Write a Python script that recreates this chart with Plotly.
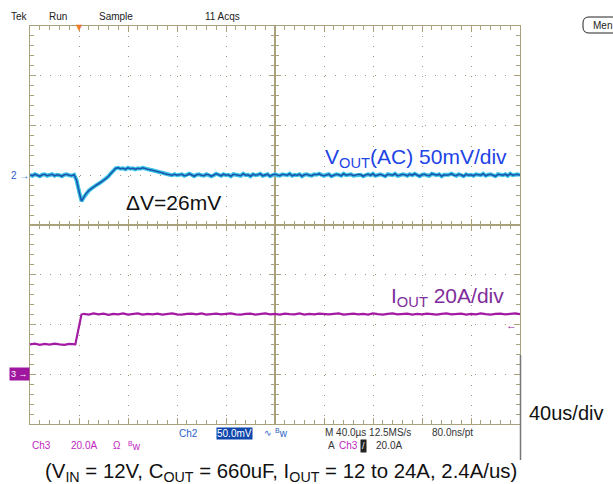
import plotly.graph_objects as go

# ---------------- data ----------------
# Ch2: VOUT (AC coupled), mV, sampled every 2 us over the 400 us record
time_v_us = list(range(0, 401, 2))
vout_mv = (
    [0.5, -0.5, 1.0, 0.0, -1.0, 0.5, 1.0, -0.5, 0.0, 1.0, -0.5, 0.5, 0.0, -1.0, 0.5, 1.0, 0.0, -0.5, 0.5]
    + [-5, -16, -26, -22, -18, -15.5, -13.5, -11.5, -10, -8.5, -7, -5, -3.5, -1, 2, 5, 7]
    + [7.5, 6.5, 7.0, 6.0, 7.5, 6.5, 7.0, 6.0, 7.0, 6.5, 7.5, 6.5, 6.0, 5.5]
    + [5.0, 4.0, 3.5, 3.0, 2.5, 1.5, 1.0, 0.5, 0.0, 1.0, 0.0]
    + [0.5, 1.0, -0.5, 0.0, 1.5, 0.5, -1.0, 0.5, 1.0, 0.0]
    + [-0.5, 1.0, 0.5, -1.0, 0.0, 1.5, 0.5, -0.5, 1.0, 0.0]
    + [0.5, -1.0, 1.0, 0.5, 0.0, -0.5, 1.5, 0.0, 0.5, -1.0]
    + [1.0, 0.0, 0.5, 1.5, -0.5, 0.0, 1.0, -1.0, 0.5, 1.0]
    + [0.0, -0.5, 1.0, 0.5, 0.0, 1.5, -0.5, 0.5, 0.0, 1.0]
    + [-1.0, 0.5, 1.0, 0.0, -0.5, 1.0, 0.5, 1.5, 0.0, -0.5]
    + [0.5, 1.0, -1.0, 0.0, 1.0, 0.5, -0.5, 1.5, 0.0, 0.5]
    + [1.0, -0.5, 0.0, 1.0, 0.5, -1.0, 0.5, 1.0, 0.0, 1.5]
    + [-0.5, 0.5, 1.0, 0.0, -1.0, 1.0, 0.5, 0.0, 1.5, -0.5]
    + [0.0, 1.0, 0.5, -0.5, 1.0, 0.0, 1.5, 0.5, -1.0, 0.5]
    + [1.0, 0.0, -0.5, 1.5, 0.5, 0.0, 1.0, -1.0, 0.5, 0.0]
    + [0.5, 1.5, 0.0, -0.5, 1.0, 0.5, -1.0, 1.0, 0.0, 0.5]
    + [-0.5, 1.0, 0.5, 0.0, 1.5, -0.5, 0.5, 1.0, 0.0, -1.0]
    + [1.0, 0.5, 0.0, 1.0, -0.5, 1.5, 0.0, 0.5, 1.0, 0.0]
)

# Ch3: IOUT, A
time_i_us = list(range(0, 37, 4)) + [37, 42] + list(range(44, 401, 4))
iout_a = (
    [12.0, 12.3, 11.8, 12.2, 11.9, 12.3, 12.0, 11.8, 12.2, 12.0, 12.0]
    + [24.0]
    + [24.3, 24.0, 24.5, 24.1, 24.4, 23.9, 24.3, 24.1, 24.5, 24.0]
    + [24.2, 24.5, 24.0, 24.3, 24.1, 24.4, 24.0, 24.3, 24.5, 24.1]
    + [24.0, 24.3, 24.4, 24.1, 24.5, 24.0, 24.2, 24.4, 24.1, 24.3]
    + [24.5, 24.1, 24.0, 24.3, 24.4, 24.0, 24.2, 24.5, 24.1, 24.3]
    + [24.0, 24.4, 24.2, 24.1, 24.5, 24.0, 24.3, 24.1, 24.4, 24.2]
    + [24.1, 24.3, 24.5, 24.0, 24.2, 24.4, 24.1, 24.3, 24.0, 24.5]
    + [24.2, 24.0, 24.3, 24.5, 24.1, 24.2, 24.4, 24.0, 24.3, 24.1]
    + [24.4, 24.2, 24.0, 24.3, 24.5, 24.1, 24.2, 24.4, 24.0, 24.3]
    + [24.1, 24.5, 24.2, 24.0, 24.3, 24.4, 24.1, 24.2, 24.5, 24.2]
)

time_range_us = [0, 400]       # 10 div x 40 us/div
time_div_us = 40
div_half = 4                   # 8 vertical divisions, centre at 0
ch2_range_mv = [-250, 150]     # 50 mV/div, ground one div above centre
ch3_range_a = [-20, 140]       # 20 A/div, ground three div below centre
trigger_time_us = 40
trigger_level_a = 20

# ---------------- layout helpers ----------------
W, H = 613, 484
L, R, T, B = 30, 520, 26, 424
TAN = "#a9a17c"
DOT = "#9c9678"
FONT = "Liberation Sans, Arial, sans-serif"


def px(x):
    return (x - L) / (R - L)


def py(y):
    return (B - y) / (B - T)


fig = go.Figure()

# graticule: four quadrants, each with mirrored inside ticks, so the centre
# lines get ticks on both sides like the scope screen
half_t = (time_range_us[1] - time_range_us[0]) / 2
quads = {
    "": ([0, 0.5], [time_range_us[0], time_range_us[0] + half_t], [0.5, 1], [0, div_half]),
    "2": ([0.5, 1], [time_range_us[0] + half_t, time_range_us[1]], [0.5, 1], [0, div_half]),
    "3": ([0, 0.5], [time_range_us[0], time_range_us[0] + half_t], [0, 0.5], [-div_half, 0]),
    "4": ([0.5, 1], [time_range_us[0] + half_t, time_range_us[1]], [0, 0.5], [-div_half, 0]),
}

axes = {}
common = dict(showticklabels=False, zeroline=False, fixedrange=True, tickcolor=TAN,
              showline=True, linecolor=TAN, linewidth=1, mirror="ticks",
              showgrid=True, gridcolor=DOT, gridwidth=1,
              ticks="inside", ticklen=6)
for k, (xd, xr, yd, yr) in quads.items():
    axes["xaxis" + k] = dict(common, domain=xd, range=xr, anchor="y" + k, tick0=0,
                             dtick=time_div_us, griddash="1px,9px",
                             minor=dict(tick0=0, dtick=time_div_us / 5, ticks="inside",
                                        ticklen=4, tickcolor=TAN, showgrid=False))
    axes["yaxis" + k] = dict(common, domain=yd, range=yr, anchor="x" + k, tick0=0,
                             dtick=1, griddash="1px,9px",
                             minor=dict(tick0=0, dtick=0.2, ticks="inside",
                                        ticklen=4, tickcolor=TAN, showgrid=False))
    # empty trace so the quadrant subplot gets drawn
    fig.add_trace(go.Scatter(x=[None], y=[None], xaxis="x" + k, yaxis="y" + k,
                             mode="lines", hoverinfo="skip", showlegend=False))

axes["xaxis5"] = dict(domain=[0, 1], range=time_range_us, anchor="y5", visible=False,
                      fixedrange=True)
axes["yaxis5"] = dict(domain=[0, 1], range=ch2_range_mv, anchor="x5", visible=False,
                      fixedrange=True)
axes["yaxis6"] = dict(range=ch3_range_a, overlaying="y5", anchor="x5", visible=False,
                      fixedrange=True)

fig.add_trace(go.Scatter(x=time_v_us, y=vout_mv, xaxis="x5", yaxis="y5", mode="lines",
                         line=dict(color="#3cc6e6", width=4), hoverinfo="skip", showlegend=False))
fig.add_trace(go.Scatter(x=time_v_us, y=vout_mv, xaxis="x5", yaxis="y5", mode="lines",
                         line=dict(color="#1b55ae", width=1.6), hoverinfo="skip", showlegend=False))
fig.add_trace(go.Scatter(x=time_i_us, y=iout_a, xaxis="x5", yaxis="y6", mode="lines",
                         line=dict(color="#a21ba2", width=2.2), hoverinfo="skip", showlegend=False))

ann = []


def txt(x, y, s, size=10, color="#222222", xanchor="left", family=FONT, **kw):
    d = dict(x=px(x), y=py(y), xref="paper", yref="paper", text=s, showarrow=False,
             xanchor=xanchor, yanchor="middle",
             font=dict(family=family, size=size, color=color))
    d.update(kw)
    ann.append(d)


# header
txt(9, 17, "Tek")
txt(47, 17, "Run")
txt(97, 17, "Sample")
txt(203, 17, "11 Acqs")
txt(591, 25, "Men", size=10)

# channel ground markers, trigger markers
ann.append(dict(x=0, y=0, xref="paper", yref="y5", text="2 →", showarrow=False,
                xanchor="right", yanchor="middle", xshift=1,
                font=dict(family=FONT, size=10, color="#2b5ec8")))
ann.append(dict(x=0, y=0, xref="paper", yref="y6", text="3 →", showarrow=False,
                xanchor="right", yanchor="middle", bgcolor="#a0179f", borderpad=1,
                font=dict(family=FONT, size=9, color="white")))
ann.append(dict(x=px(511), y=trigger_level_a, xref="paper", yref="y6", text="←",
                showarrow=False, xanchor="center", yanchor="middle",
                font=dict(family=FONT, size=11, color="#a0179f")))
ann.append(dict(x=trigger_time_us, y=1, xref="x5", yref="paper", text="▼", showarrow=False,
                xanchor="center", yanchor="middle", yshift=-1,
                font=dict(family="DejaVu Sans", size=8, color="#f07a2a")))

# big labels
txt(323, 158, "V<sub>OUT</sub>(AC) 50mV/div", size=21, color="#1e44e6")
txt(124, 202, "ΔV=26mV", size=21, color="#111111")
txt(389, 297, "I<sub>OUT</sub> 20A/div", size=21, color="#7f2d9c")
txt(527, 413, "40us/div", size=20, color="#111111")
txt(43, 472, "(V<sub>IN</sub> = 12V, C<sub>OUT</sub> = 660uF, I<sub>OUT</sub> = 12 to 24A, 2.4A/us)",
    size=20.4, color="#111111")

# status lines
BLUE_S = "#2b5ec8"
MAG_S = "#c026c0"
txt(177, 433, "Ch2", color=BLUE_S)
txt(216, 433, "50.0mV", color="white", bgcolor="#0f47ac", borderpad=0)
txt(262, 433, "∿", color=BLUE_S, size=9)
txt(273, 433, "<sup>B</sup>w", color=BLUE_S)
txt(323, 432, "M 40.0µs 12.5MS/s", color="#333333")
txt(430, 432, "80.0ns/pt", color="#333333")
txt(30, 446, "Ch3", color=MAG_S)
txt(69, 446, "20.0A", color=MAG_S)
txt(111, 446, "Ω", color=MAG_S)
txt(126, 446, "<sup>B</sup>w", color=MAG_S)
txt(326, 446, "A", color="#333333")
txt(337, 446, "Ch3", color=MAG_S)
txt(360, 446, "/", color="white", bgcolor="#222222", borderpad=1, size=9)
txt(374, 446, "20.0A", color="#333333")

# decorative shapes: menu button and screen edge
x0, x1 = px(583), px(640)
y0, y1 = py(33), py(17)
rx, ry = 6 / (R - L), 6 / (B - T)
men_path = (f"M {x0 + rx},{y1} L {x1},{y1} L {x1},{y0} L {x0 + rx},{y0} "
            f"Q {x0},{y0} {x0},{y0 + ry} L {x0},{y1 - ry} Q {x0},{y1} {x0 + rx},{y1} Z")
shapes = [
    dict(type="path", xref="paper", yref="paper", path=men_path,
         line=dict(color="#222222", width=1), fillcolor="white", layer="below"),
    dict(type="line", xref="paper", yref="paper", x0=px(520.5), x1=px(520.5),
         y0=py(355), y1=py(460), line=dict(color="#777777", width=1.5)),
]

fig.update_layout(
    width=W, height=H, autosize=False,
    margin=dict(l=L, r=W - R, t=T, b=H - B, pad=0),
    paper_bgcolor="white", plot_bgcolor="rgba(0,0,0,0)",
    showlegend=False,
    annotations=ann, shapes=shapes,
    **axes,
)

fig.write_html("out.html", include_plotlyjs=True, config={"displayModeBar": False},
               post_script="document.body.style.margin='0';")
